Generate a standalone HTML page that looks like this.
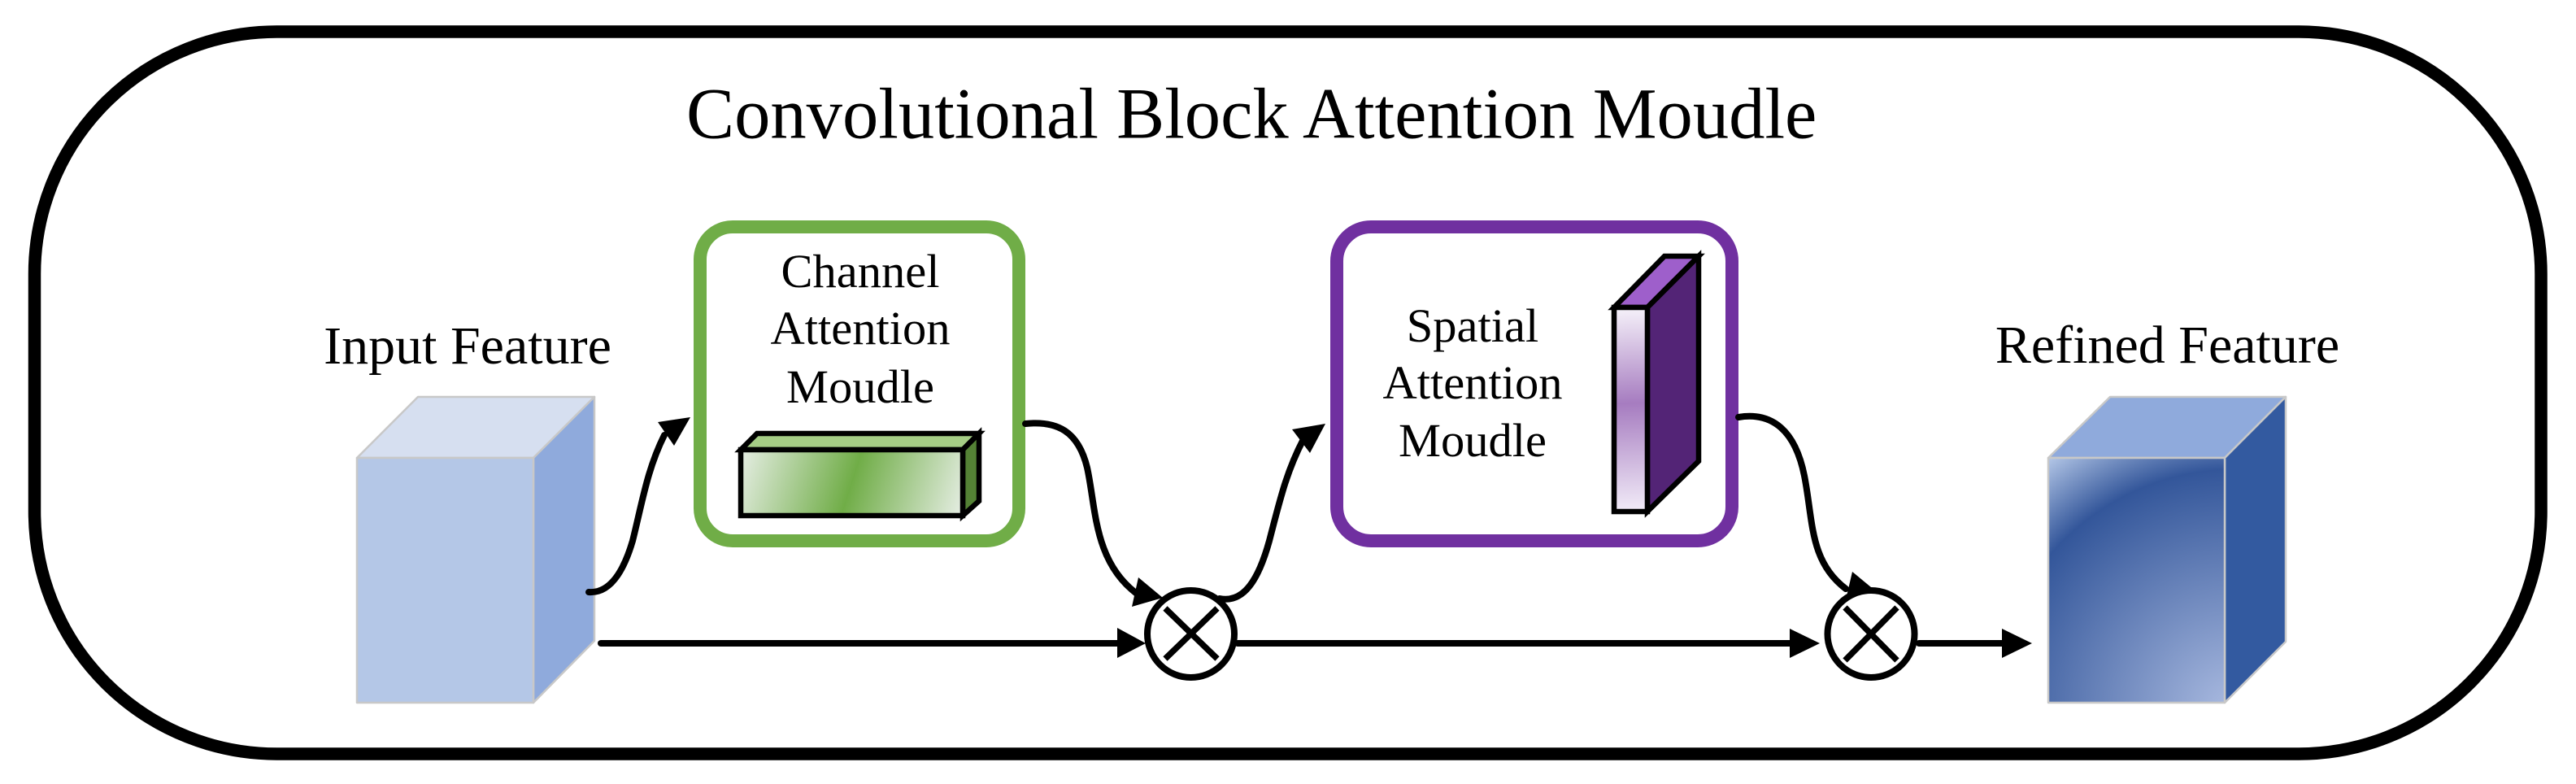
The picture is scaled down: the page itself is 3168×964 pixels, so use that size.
<!DOCTYPE html>
<html>
<head>
<meta charset="utf-8">
<title>Convolutional Block Attention Moudle</title>
<style>
html,body{margin:0;padding:0;background:#fff;width:3168px;height:964px;overflow:hidden}
svg{display:block}
text{font-family:"Liberation Serif",serif;fill:#000}
</style>
</head>
<body>
<svg xmlns="http://www.w3.org/2000/svg" width="3168" height="964" viewBox="0 0 3168 964">
<defs>
<linearGradient id="g" gradientUnits="userSpaceOnUse" x1="911" y1="553" x2="1182" y2="640">
<stop offset="0" stop-color="#e6eee4"/><stop offset=".5" stop-color="#70ad47"/><stop offset="1" stop-color="#e6eee4"/>
</linearGradient>
<linearGradient id="p" gradientUnits="userSpaceOnUse" x1="2000" y1="378" x2="2010" y2="629">
<stop offset="0" stop-color="#f6f2fa"/><stop offset=".47" stop-color="#a67cc0"/><stop offset="1" stop-color="#f2ecf8"/>
</linearGradient>
<radialGradient id="b" gradientUnits="userSpaceOnUse" cx="2750" cy="878" r="391">
<stop offset="0" stop-color="#adbde2"/><stop offset=".77" stop-color="#33569a"/><stop offset="1" stop-color="#b4c7e7"/>
</radialGradient>
</defs>

<!-- outer frame -->
<rect x="42.5" y="39" width="3082.5" height="888" rx="298" ry="298" fill="#fff" stroke="#000" stroke-width="15.5"/>

<!-- title -->
<text x="844" y="169.5" font-size="88.6">Convolutional Block Attention Moudle</text>

<!-- input cube -->
<g stroke="#c8c8c8" stroke-width="2.5" stroke-linejoin="round">
<polygon points="439,563 514,488 731,488 656,563" fill="#d6dff0"/>
<polygon points="656,563 731,488 731,788 656,864" fill="#8faadc"/>
<rect x="439" y="563" width="217" height="301" fill="#b4c7e7"/>
</g>
<text x="575" y="447" font-size="66" text-anchor="middle">Input Feature</text>

<!-- refined cube -->
<g stroke="#c8c8c8" stroke-width="2.5" stroke-linejoin="round">
<polygon points="2519,563 2595,488 2811,488 2736,563" fill="#8faadc"/>
<polygon points="2736,563 2811,488 2811,789 2736,864" fill="#335aa0"/>
<rect x="2519" y="563" width="217" height="301" fill="url(#b)"/>
</g>
<text x="2665.5" y="446" font-size="66" text-anchor="middle">Refined Feature</text>

<!-- channel box -->
<rect x="861" y="279" width="392" height="386" rx="40" fill="#fff" stroke="#70ad47" stroke-width="16"/>
<text x="1058" y="353" font-size="58.5" text-anchor="middle">Channel</text>
<text x="1058" y="423" font-size="58.5" text-anchor="middle">Attention</text>
<text x="1058" y="495" font-size="58.5" text-anchor="middle">Moudle</text>
<g stroke="#000" stroke-width="6.5" stroke-linejoin="miter">
<polygon points="911,553 931,533 1204,533 1184,553" fill="#a5cd85"/>
<polygon points="1184,553 1204,533 1204,616 1184,634" fill="#548235"/>
<rect x="911" y="553" width="273" height="81" fill="url(#g)"/>
</g>

<!-- spatial box -->
<rect x="1644" y="279" width="486" height="386" rx="42" fill="#fff" stroke="#7030a0" stroke-width="16"/>
<text x="1811" y="420" font-size="58.5" text-anchor="middle">Spatial</text>
<text x="1811" y="490" font-size="58.5" text-anchor="middle">Attention</text>
<text x="1811" y="561" font-size="58.5" text-anchor="middle">Moudle</text>
<g stroke="#000" stroke-width="6.5" stroke-linejoin="miter">
<polygon points="1985,378 2047,315 2089,315 2026,378" fill="#9e5fcb"/>
<polygon points="2026,378 2089,315 2089,567 2026,629" fill="#532476"/>
<rect x="1985" y="378" width="41" height="251" fill="url(#p)"/>
</g>

<!-- curves -->
<g fill="none" stroke="#000" stroke-width="8" stroke-linecap="round">
<path d="M724 728 C752 730 768 699 778 665 C790 617 796 577 817 535"/>
<path d="M1261 521 C1300 517 1326 530 1337 575 C1348 625 1345 690 1398 730"/>
<path d="M1500 736 C1530 742 1548 712 1561 665 C1574 615 1582 580 1603 540"/>
<path d="M2138 513 C2180 506 2208 530 2219 585 C2230 640 2225 690 2270 724"/>
<path d="M739 791 L1376 791"/>
<path d="M1522 791 L2203 791"/>
<path d="M2360 791 L2464 791"/>
</g>

<!-- arrowheads -->
<g fill="#000">
<polygon points="849,513 809,519 829,548"/>
<polygon points="1430,735 1400,710 1392,746"/>
<polygon points="1630,521 1589,528 1611,557"/>
<polygon points="2301,722 2278,703 2271,733"/>
<polygon points="1409,791 1374,772 1374,809"/>
<polygon points="2238,791 2201,773 2201,809"/>
<polygon points="2499,791 2462,773 2462,809"/>
</g>

<!-- multiply nodes -->
<g fill="#fff" stroke="#000" stroke-width="8">
<circle cx="1464.5" cy="779.5" r="53.5"/>
<circle cx="2301" cy="779.5" r="53.5"/>
</g>
<g stroke="#000" stroke-width="7.5" fill="none">
<path d="M1433 748 L1497 810 M1497 748 L1433 810"/>
<path d="M2269 747 L2333 812 M2333 747 L2269 812"/>
</g>
</svg>
</body>
</html>
